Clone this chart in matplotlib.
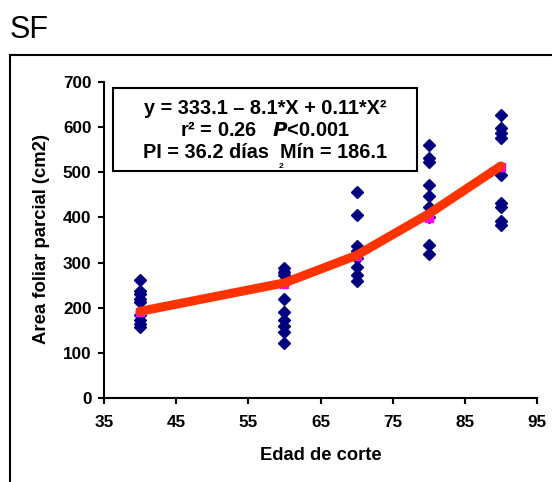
import matplotlib
matplotlib.use("Agg")
import matplotlib.pyplot as plt
from matplotlib.patches import Rectangle

plt.rcParams['font.family'] = ['Liberation Sans', 'DejaVu Sans']

# Data
edad_40 = [262, 238, 230, 220, 212, 183, 172, 165, 158]
edad_60 = [288, 280, 272, 219, 190, 172, 160, 147, 122]
edad_70 = [457, 405, 337, 325, 310, 290, 272, 260]
edad_80 = [560, 532, 522, 472, 447, 424, 402, 338, 318]
edad_90 = [627, 598, 588, 575, 494, 432, 424, 392, 383]
edades = [40, 60, 70, 80, 90]
observaciones = [edad_40, edad_60, edad_70, edad_80, edad_90]
medias = [191, 252, 315, 399, 511]
ajuste = [192, 255, 316, 408, 514]

xticks = [35, 45, 55, 65, 75, 85, 95]
yticks = [0, 100, 200, 300, 400, 500, 600, 700]

fig = plt.figure(figsize=(5.52, 4.82), dpi=100)
ax = fig.add_axes([104/552, 1-398/482, (537-104)/552, (398-82)/482])

for x, vals in zip(edades, observaciones):
    ax.plot([x]*len(vals), vals, linestyle='none', marker='D', markersize=6.3,
            color='#000080', markeredgecolor='#000080', zorder=3, clip_on=False)
ax.plot(edades, medias, linestyle='none', marker='s', markersize=5.5,
        color='#FF00FF', zorder=4, clip_on=False)
ax.plot(edades, ajuste, color='#FF3300', linewidth=6.5, solid_capstyle='round',
        solid_joinstyle='round', zorder=5, clip_on=False)

ax.set_xlim(35, 95)
ax.set_ylim(0, 700)
ax.set_xticks(xticks)
ax.set_yticks(yticks)
ax.set_xticklabels([str(t) for t in xticks], fontsize=12.3, fontweight='bold')
ax.set_yticklabels([str(t) for t in yticks], fontsize=12.3, fontweight='bold')
for s in ['top', 'right']:
    ax.spines[s].set_visible(False)
for s in ['left', 'bottom']:
    ax.spines[s].set_linewidth(1.5)
ax.tick_params(direction='out', length=4, width=1.5)
ax.tick_params(axis='x', pad=8)
ax.tick_params(axis='y', pad=5)
ax.set_xlabel('Edad de corte', fontsize=13.2, fontweight='bold')
ax.xaxis.set_label_coords(0.5, -(455-398)/316, transform=ax.transAxes)
ax.xaxis.label.set_va('center')
ax.set_ylabel('Area foliar parcial (cm2)', fontsize=13.3, fontweight='bold')
ax.yaxis.set_label_coords(-(104-42)/433, (398-239)/316, transform=ax.transAxes)
ax.yaxis.label.set_va('center')

# equation box
bx0, by0, bx1, by1 = 113/552, 1-171/482, 417/552, 1-88/482
fig.patches.append(Rectangle((bx0, by0), bx1-bx0, by1-by0, transform=fig.transFigure,
                             facecolor='white', edgecolor='black', linewidth=1.5, zorder=10))
cx = (bx0 + bx1) / 2
fs = 14.3
fig.text(cx, 1-109/482, 'y = 333.1 \u2013 8.1*X + 0.11*X\u00b2', ha='center', va='center',
         fontsize=fs, fontweight='bold', zorder=11)
fig.text(cx, 1-131/482, 'r\u00b2 = 0.26   $\\mathbfit{P}$<0.001', ha='center', va='center',
         fontsize=fs, fontweight='bold', zorder=11)
fig.text(cx, 1-153/482, 'PI = 36.2 días  Mín = 186.1', ha='center', va='center',
         fontsize=fs, fontweight='bold', zorder=11)
fig.text(281/552, 1-167/482, '2', ha='center', va='center', fontsize=6,
         fontweight='bold', zorder=11)

# outer frame
fig.patches.append(Rectangle((10/552, -0.2), 1.2, 1-55/482+0.2, transform=fig.transFigure,
                             facecolor='none', edgecolor='black', linewidth=1.5, zorder=1))
fig.text(10/552, 1-30/482, 'SF', ha='left', va='center', fontsize=22)

fig.savefig('out.png', dpi=100)
